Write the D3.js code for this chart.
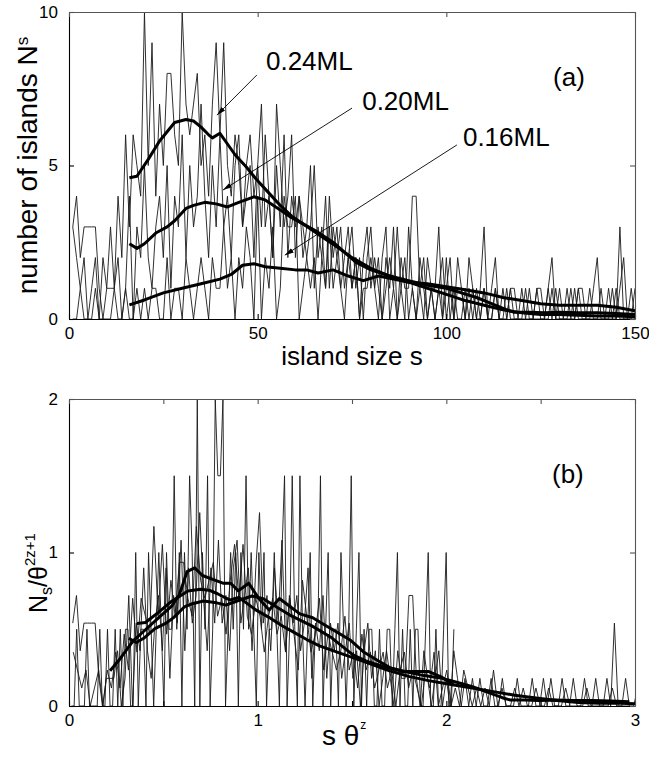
<!DOCTYPE html>
<html><head><meta charset="utf-8">
<script src="https://cdn.jsdelivr.net/npm/d3@7"></script>
<style>body{margin:0;background:#fff} text{font-family:"Liberation Sans",Arial,Helvetica,sans-serif;fill:#000}</style>
</head><body><svg id="c" width="649" height="758"></svg>
<script>
// ---------- DATA ----------
const coverages = ["0.16ML", "0.20ML", "0.24ML"];
const sizes = d3.range(1, 151); // island size s = 1..150

const counts016 = [0,0,1,0,0,0,1,0,0,0, 0,1,0,0,1,0,0,1,0,1, 0,1,1,0,0,2,0,1,1,0, 2,1,0,1,2,1,0,2,1,1,
  3,1,2,0,2,1,3,2,0,4, 0,2,1,3,0,1,4,3,3,4, 0,1,2,1,2,0,2,1,3,1, 2,1,0,2,1,2,0,1,1,2,
  1,0,2,3,0,1,3,1,0,3, 1,0,1,2,0,1,1,3,0,1, 2,0,1,1,0,2,1,0,1,3, 0,1,2,0,1,0,1,1,0,0,
  1,0,0,1,1,0,1,2,0,1, 0,0,1,0,1,1,0,0,1,2, 0,0,1,0,0,1,2,0,0,1];
const counts020 = [3,4,2,3,3,3,3,1,0,1, 1,1,2,0,1,4,0,3,2,5, 2,1,3,4,2,5,1,4,3,6, 2,5,3,4,7,4,2,5,3,6,
  3,4,2,5,6,3,4,5,2,5, 7,3,4,2,5,3,6,2,4,3, 4,2,3,5,1,3,2,4,1,3, 2,3,1,2,3,1,2,0,2,3,
  1,2,0,1,2,1,0,2,1,1, 4,4,1,0,2,1,0,1,2,0, 1,0,2,1,0,1,0,1,0,1, 0,0,1,0,0,1,0,0,0,1,
  0,0,0,1,0,0,1,0,1,0, 0,1,0,0,1,0,0,1,0,0, 1,0,0,1,0,3,0,0,1,0];
const counts024 = [3,2,1,2,0,1,2,0,2,1, 3,1,4,2,6,3,6,5,4,10, 5,9,4,7,5,8,8,6,5,10, 7,6,7,8,5,6,4,7,9,6,
  9,5,4,6,5,3,5,6,4,5, 3,6,4,2,7,5,3,4,6,2, 4,3,2,3,5,2,3,1,4,2, 3,1,2,3,1,2,0,2,3,1,
  2,1,0,2,1,3,0,1,2,0, 1,0,2,1,0,1,0,1,0,2, 0,1,0,0,1,0,1,0,0,1, 0,0,1,0,0,0,1,0,0,0,
  0,1,0,0,0,0,0,1,0,0, 0,0,0,1,0,0,0,0,0,0, 0,0,0,0,1,0,0,0,0,0];

const smoothS016 = [16,20,25,30,35,40,43,46,49,52,56,60,63,66,70,74,78,82,86,90,95,100,105,110,115,120,125,130,135,140,145,150];
const smoothN016 = [0.46,0.62,0.85,1.0,1.15,1.3,1.45,1.75,1.8,1.7,1.65,1.6,1.6,1.5,1.6,1.4,1.25,1.4,1.3,1.2,1.15,1.05,0.95,0.85,0.7,0.6,0.5,0.45,0.45,0.45,0.38,0.27];
const smoothS020 = [16,18,20,23,26,28,31,33,36,39,42,45,49,52,56,59,62,65,70,76,80,85,90,95,100,104,108,112,116,118,122,126,130,135,140,145,150];
const smoothN020 = [2.45,2.3,2.45,2.8,3.0,3.2,3.6,3.7,3.8,3.75,3.65,3.8,3.98,3.88,3.55,3.3,3.1,2.9,2.5,1.85,1.6,1.4,1.25,1.1,1.0,0.85,0.7,0.5,0.3,0.22,0.22,0.2,0.22,0.2,0.2,0.18,0.15];
const smoothS024 = [16,18,21,24,26,28,31,33,35,37,38,40,42,44,47,50,53,56,59,62,65,68,71,75,80,85,90,95,100,105,110,115,120,125,130,135,140,145,150];
const smoothN024 = [4.6,4.65,5.2,5.8,6.1,6.4,6.5,6.45,6.25,6.0,5.9,6.05,5.7,5.35,4.95,4.5,4.1,3.7,3.35,3.1,2.85,2.6,2.35,2.0,1.65,1.4,1.2,1.0,0.8,0.6,0.45,0.3,0.2,0.15,0.15,0.12,0.1,0.1,0.07];

// scaling factors for panel (b): x = s*theta^z, y = Ns/theta^(2z+1) (per coverage)
const scaleX = [0.0136, 0.0198, 0.0225];
const scaleY = [0.50, 0.18, 0.117];

const xTicksA = [0, 50, 100, 150];
const yTicksA = [0, 5, 10];
const xTicksB = [0, 0.5, 1, 1.5, 2, 2.5, 3];
const xLabelsB = [0, 1, 2, 3];
const yTicksB = [0, 1, 2];

// annotation anchors (data units of panel a)
const labelPos = [[104.4, 5.64], [77.7, 6.8], [52.2, 8.1]];
const arrowFrom = [[102.8, 5.67], [75.0, 6.87], [49.8, 7.95]];
const arrowTo = [[57.2, 2.08], [40.8, 4.2], [39.2, 6.64]];
const panelTagA = [128.3, 7.6];
const panelTagB = [2.56, 1.45];

// ---------- CHART ----------
const svg = d3.select("#c");
const FONT = '"Liberation Sans",Arial,Helvetica,sans-serif';
const A = {l: 69, r: 635, t: 12, b: 319};
const B = {l: 69, r: 635, t: 399, b: 706};
const xA = d3.scaleLinear().domain([0, 150]).range([A.l, A.r]);
const yA = d3.scaleLinear().domain([0, 10]).range([A.b, A.t]);
const xB = d3.scaleLinear().domain([0, 3]).range([B.l, B.r]);
const yB = d3.scaleLinear().domain([0, 2]).range([B.b, B.t]);

const defs = svg.append("defs");
defs.append("clipPath").attr("id", "clipA").append("rect")
  .attr("x", A.l).attr("y", A.t).attr("width", A.r - A.l).attr("height", A.b - A.t);
defs.append("clipPath").attr("id", "clipB").append("rect")
  .attr("x", B.l).attr("y", B.t).attr("width", B.r - B.l).attr("height", B.b - B.t);
defs.append("marker").attr("id", "arr").attr("viewBox", "0 0 10 10")
  .attr("refX", 10).attr("refY", 5).attr("markerWidth", 9).attr("markerHeight", 9)
  .attr("markerUnits", "userSpaceOnUse").attr("orient", "auto")
  .append("path").attr("d", "M0,2.2 L10,5 L0,7.8 Z").attr("fill", "#000");

const thin = [counts016, counts020, counts024];
const smoothS = [smoothS016, smoothS020, smoothS024];
const smoothN = [smoothN016, smoothN020, smoothN024];

const gA = svg.append("g").attr("clip-path", "url(#clipA)");
const gB = svg.append("g").attr("clip-path", "url(#clipB)");

thin.forEach((arr, k) => {
  gA.append("path").attr("fill", "none").attr("stroke", "#1a1a1a").attr("stroke-width", 0.9)
    .attr("d", d3.line().x((d, i) => xA(sizes[i])).y(d => yA(d))(arr));
  gB.append("path").attr("fill", "none").attr("stroke", "#1a1a1a").attr("stroke-width", 0.9)
    .attr("d", d3.line().x((d, i) => xB(sizes[i] * scaleX[k])).y(d => yB(d * scaleY[k]))(arr));
});
smoothN.forEach((arr, k) => {
  gA.append("path").attr("fill", "none").attr("stroke", "#000").attr("stroke-width", 3)
    .attr("stroke-linejoin", "round")
    .attr("d", d3.line().x((d, i) => xA(smoothS[k][i])).y(d => yA(d))(arr));
  gB.append("path").attr("fill", "none").attr("stroke", "#000").attr("stroke-width", 3)
    .attr("stroke-linejoin", "round")
    .attr("d", d3.line().x((d, i) => xB(smoothS[k][i] * scaleX[k])).y(d => yB(d * scaleY[k]))(arr));
});

function frame(P, x, y, xt, yt, xfmt) {
  const bottom = svg.append("g").attr("transform", `translate(0,${P.b})`)
    .call(d3.axisBottom(x).tickValues(xt).tickFormat(xfmt).tickSizeInner(-5).tickSizeOuter(0).tickPadding(8));
  const left = svg.append("g").attr("transform", `translate(${P.l},0)`)
    .call(d3.axisLeft(y).tickValues(yt).tickFormat(d3.format("d")).tickSizeInner(-5).tickSizeOuter(0).tickPadding(11));
  const top = svg.append("g").attr("transform", `translate(0,${P.t})`)
    .call(d3.axisTop(x).tickValues(xt).tickFormat("").tickSizeInner(-5).tickSizeOuter(0));
  const right = svg.append("g").attr("transform", `translate(${P.r},0)`)
    .call(d3.axisRight(y).tickValues(yt).tickFormat("").tickSizeInner(-5).tickSizeOuter(0));
  [bottom, left].forEach(g => {
    g.attr("font-size", 17).attr("font-family", FONT);
    g.selectAll("path,line").attr("stroke", "#000").attr("stroke-width", 1.1);
    g.selectAll("text").attr("fill", "#000");
  });
  [top, right].forEach(g => g.selectAll("path,line").attr("stroke", "#555").attr("stroke-width", 1.1));
}
frame(A, xA, yA, xTicksA, yTicksA, d3.format("d"));
frame(B, xB, yB, xTicksB, yTicksB, d => xLabelsB.includes(d) ? d : "");

// annotations panel (a)
coverages.forEach((c, k) => {
  svg.append("line")
    .attr("x1", xA(arrowFrom[k][0])).attr("y1", yA(arrowFrom[k][1]))
    .attr("x2", xA(arrowTo[k][0])).attr("y2", yA(arrowTo[k][1]))
    .attr("stroke", "#000").attr("stroke-width", 0.9).attr("marker-end", "url(#arr)");
  svg.append("text").attr("x", xA(labelPos[k][0])).attr("y", yA(labelPos[k][1]))
    .attr("font-size", 26).text(c);
});
svg.append("text").attr("x", xA(panelTagA[0])).attr("y", yA(panelTagA[1])).attr("font-size", 26).text("(a)");
svg.append("text").attr("x", xB(panelTagB[0])).attr("y", yB(panelTagB[1])).attr("font-size", 26).text("(b)");

// axis titles
const yl = svg.append("text").attr("transform", `translate(37,${(A.t + A.b) / 2}) rotate(-90)`)
  .attr("text-anchor", "middle").attr("font-size", 28);
yl.append("tspan").text("number of islands N");
yl.append("tspan").attr("font-size", 17).attr("dy", -9).text("s");

svg.append("text").attr("x", (A.l + A.r) / 2).attr("y", 365).attr("text-anchor", "middle")
  .attr("font-size", 26).text("island size s");

const yl2 = svg.append("text").attr("transform", "translate(47,613) rotate(-90)").attr("font-size", 25);
yl2.append("tspan").text("N");
yl2.append("tspan").attr("font-size", 16).attr("dy", 5).text("s");
yl2.append("tspan").attr("dy", -5).text("/θ");
yl2.append("tspan").attr("font-size", 15).attr("dy", -12).text("2z+1");

const xl2 = svg.append("text").attr("x", 322).attr("y", 745).attr("font-size", 28);
xl2.append("tspan").text("s θ");
xl2.append("tspan").attr("font-size", 12).attr("dy", -16).attr("dx", 1).text("z");
</script></body></html>
